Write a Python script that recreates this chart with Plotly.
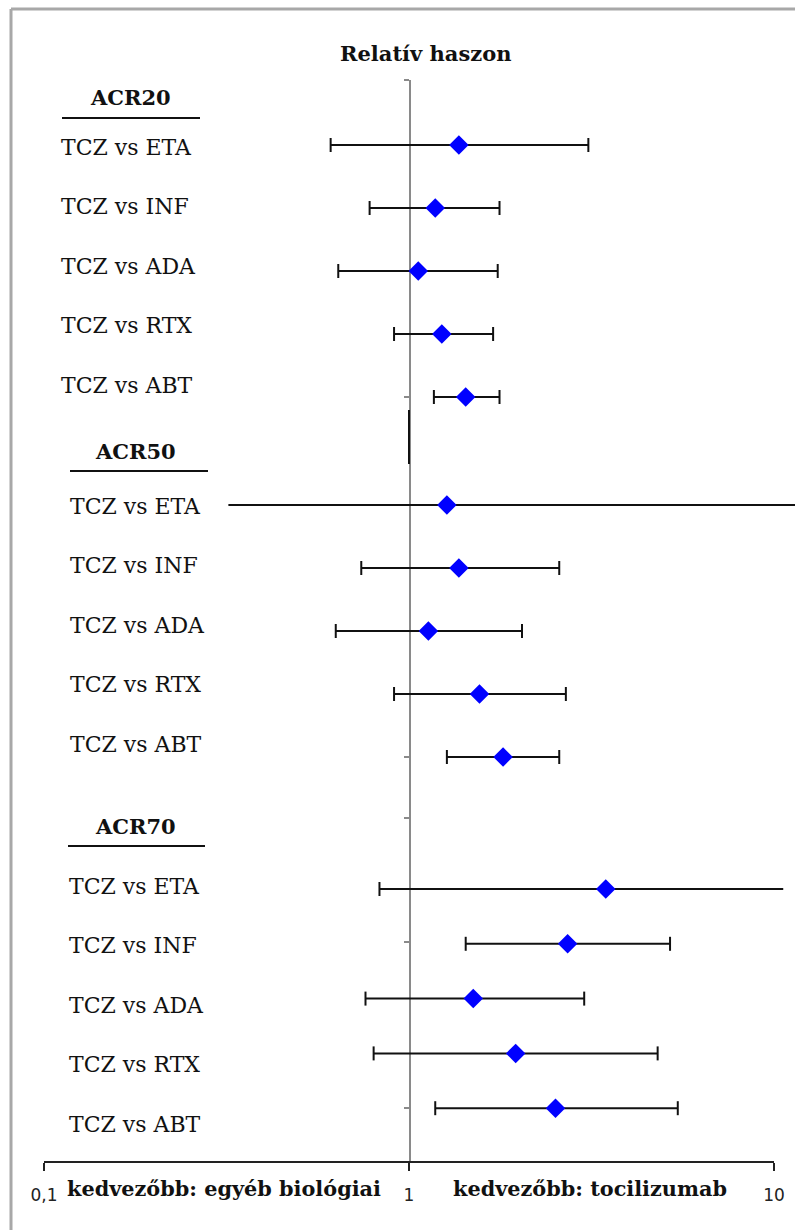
import math
import plotly.graph_objects as go

# ---------------- data ----------------
groups = ["ACR20", "ACR50", "ACR70"]
comparators = ["ETA", "INF", "ADA", "RTX", "ABT"]
rr = [
    [1.37, 1.18, 1.06, 1.23, 1.43],
    [1.27, 1.37, 1.13, 1.56, 1.81],
    [3.46, 2.72, 1.50, 1.96, 2.52],
]
ci_low = [
    [0.61, 0.78, 0.64, 0.91, 1.17],
    [0.32, 0.74, 0.63, 0.91, 1.27],
    [0.83, 1.43, 0.76, 0.80, 1.18],
]
ci_high = [
    [3.10, 1.77, 1.75, 1.70, 1.77],
    [11.5, 2.58, 2.04, 2.69, 2.58],
    [10.6, 5.19, 3.02, 4.80, 5.45],
]
cap_low = [
    [True, True, True, True, True],
    [False, True, True, True, True],
    [True, True, True, True, True],
]
cap_high = [
    [True, True, True, True, True],
    [False, True, True, True, True],
    [False, True, True, True, True],
]
x_ticks = [0.1, 1, 10]
x_tick_text = ["0,1", "1", "10"]
title_text = "Relatív haszon"
left_note = "kedvezőbb: egyéb biológiai"
right_note = "kedvezőbb: tocilizumab"

# ---------------- layout constants ----------------
W, H = 795, 1230
# plot area in page pixels (body margin removed by post_script)
PL_PAGE, PR_PAGE, PT_PAGE, PB_PAGE = 10, W, 80, 1162
ONE_PX, PX_PER_DEC = 409, 365               # where x=1 sits, pixels per decade
x_range = [(PL_PAGE - ONE_PX) / PX_PER_DEC, (PR_PAGE - ONE_PX) / PX_PER_DEC]
Y_SPAN = PB_PAGE - PT_PAGE

row_start = [65, 425, 809]
row_step = [63, 63, 54.8]
label_start = [67, 426, 806]
label_step = [59.6, 59.5, 59.5]
label_x_px = [59, 68, 67]
header_y = [17, 371, 746]
header_cx_px = [130, 135, 135]
underline_y = [38, 391, 766]
underline_px = [(62, 200), (70, 208), (68, 205)]
yaxis_ticks = [0, 317, 677, 738, 862, 1028]


def paper_x(px):
    return (px - PL_PAGE) / (PR_PAGE - PL_PAGE)


def paper_y(py):
    return (PB_PAGE - py) / (PB_PAGE - PT_PAGE)


SERIF = "DejaVu Serif"
INK = "#111111"

fig = go.Figure()

# CI lines and caps
line_x, line_y, cap_x, cap_y = [], [], [], []
pt_x, pt_y = [], []
for g in range(len(groups)):
    for i in range(len(comparators)):
        y = row_start[g] + i * row_step[g]
        line_x += [ci_low[g][i], ci_high[g][i], None]
        line_y += [y, y, None]
        if cap_low[g][i]:
            cap_x.append(ci_low[g][i]); cap_y.append(y)
        if cap_high[g][i]:
            cap_x.append(ci_high[g][i]); cap_y.append(y)
        pt_x.append(rr[g][i]); pt_y.append(y)

fig.add_trace(go.Scatter(x=line_x, y=line_y, mode="lines",
                         line=dict(color=INK, width=2),
                         hoverinfo="skip", showlegend=False))
fig.add_trace(go.Scatter(x=cap_x, y=cap_y, mode="markers",
                         marker=dict(symbol="line-ns", size=10,
                                     line=dict(color=INK, width=2)),
                         hoverinfo="skip", showlegend=False))
fig.add_trace(go.Scatter(x=pt_x, y=pt_y, mode="markers",
                         marker=dict(symbol="diamond", size=15, color="#0000FF",
                                     line=dict(width=0)),
                         showlegend=False))

annotations = []
shapes = []

# row labels, headers, underlines
for g in range(len(groups)):
    for i, c in enumerate(comparators):
        annotations.append(dict(
            x=paper_x(label_x_px[g]), xref="paper", xanchor="left",
            y=label_start[g] + i * label_step[g], yref="y", yanchor="middle",
            text=f"TCZ vs {c}", showarrow=False,
            font=dict(family=SERIF, size=22, color=INK)))
    annotations.append(dict(
        x=paper_x(header_cx_px[g]), xref="paper", xanchor="center",
        y=header_y[g], yref="y", yanchor="middle",
        text=f"<b>{groups[g]}</b>", showarrow=False,
        font=dict(family=SERIF, size=21, color=INK)))
    x0, x1 = underline_px[g]
    shapes.append(dict(type="line", xref="paper", yref="y",
                       x0=paper_x(x0), x1=paper_x(x1),
                       y0=underline_y[g], y1=underline_y[g],
                       line=dict(color=INK, width=2)))

# title
annotations.append(dict(x=paper_x(426), xref="paper", xanchor="center",
                        y=paper_y(53), yref="paper", yanchor="middle",
                        text=f"<b>{title_text}</b>", showarrow=False,
                        font=dict(family=SERIF, size=21, color=INK)))
# bottom notes
annotations.append(dict(x=paper_x(224), xref="paper", xanchor="center",
                        y=paper_y(1188), yref="paper", yanchor="middle",
                        text=f"<b>{left_note}</b>", showarrow=False,
                        font=dict(family=SERIF, size=20.8, color=INK)))
annotations.append(dict(x=paper_x(590), xref="paper", xanchor="center",
                        y=paper_y(1188), yref="paper", yanchor="middle",
                        text=f"<b>{right_note}</b>", showarrow=False,
                        font=dict(family=SERIF, size=20.8, color=INK)))

# x axis line from 0.1 to 10
shapes.append(dict(type="line", xref="x", yref="paper",
                   x0=x_ticks[0], x1=x_ticks[-1], y0=0, y1=0,
                   line=dict(color="#222222", width=2)))
# short black segment on the reference line
shapes.append(dict(type="line", xref="x", yref="y", x0=1, x1=1, y0=330, y1=384,
                   line=dict(color=INK, width=2)))
# outer gray frame (top and left edges)
shapes.append(dict(type="line", xref="paper", yref="paper",
                   x0=paper_x(11), x1=paper_x(810), y0=paper_y(9), y1=paper_y(9),
                   line=dict(color="#a8a8a8", width=3)))
shapes.append(dict(type="line", xref="paper", yref="paper",
                   x0=paper_x(11), x1=paper_x(11), y0=paper_y(9), y1=paper_y(1250),
                   line=dict(color="#a8a8a8", width=3)))

fig.update_layout(
    width=W, height=H, autosize=False,
    margin=dict(l=PL_PAGE, r=W - PR_PAGE, t=PT_PAGE, b=H - PB_PAGE, pad=0),
    paper_bgcolor="white", plot_bgcolor="white",
    showlegend=False, hovermode=False,
    xaxis=dict(type="log", range=x_range, showline=False, showgrid=False,
               zeroline=False, tickvals=x_ticks, ticktext=x_tick_text,
               ticks="outside", ticklen=8, tickwidth=2, tickcolor="#222222",
               ticklabelstandoff=10,
               tickfont=dict(family="DejaVu Sans", size=17, color="#222222")),
    yaxis=dict(range=[Y_SPAN, 0], anchor="free", position=paper_x(ONE_PX),
               showline=True, linecolor="#8a8a8a", linewidth=1.5,
               showgrid=False, zeroline=False, showticklabels=False,
               tickvals=yaxis_ticks, ticks="outside", ticklen=5,
               tickcolor="#8a8a8a", tickwidth=1.5, layer="below traces"),
    annotations=annotations,
    shapes=shapes,
)

fig.write_html("out.html",
               config={"displayModeBar": False, "staticPlot": True},
               post_script="document.body.style.margin='0';"
                           "document.body.style.overflow='hidden';")
